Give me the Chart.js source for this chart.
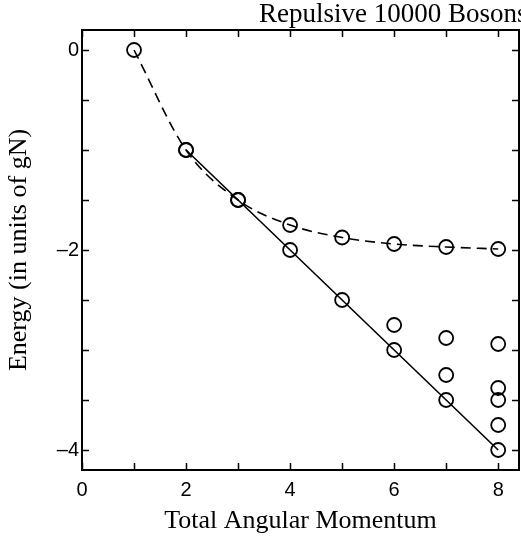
<!DOCTYPE html>
<html>
<head>
<meta charset="utf-8">
<script src="https://cdn.jsdelivr.net/npm/chart.js@4"></script>
<style>
  body { margin: 0; background: #fff; }
  #wrap { width: 521px; height: 542px; position: relative; }
</style>
</head>
<body>
<div id="wrap"><canvas id="chart"></canvas></div>
<script>
// values
const yrastL = [1, 2, 3, 4, 5, 6, 7, 8];
const yrastE = [0, -1, -1.5, -1.75, -1.875, -1.94, -1.97, -1.99];
const lineL = [2, 3, 4, 5, 6, 7, 8];
const lineE = [-1, -1.5, -2, -2.5, -3, -3.5, -4];
const extraL = [6, 7, 7, 8, 8, 8, 8];
const extraE = [-2.75, -2.88, -3.25, -2.94, -3.38, -3.5, -3.75];

// tick marks (labelled ones every 2)
const xTicks = [0, 1, 2, 3, 4, 5, 6, 7, 8];
const yTicks = [0, -0.5, -1, -1.5, -2, -2.5, -3, -3.5, -4];
const xLabelled = [0, 2, 4, 6, 8];
const yLabelled = [0, -2, -4];

const titleText = 'Repulsive 10000 Bosons';
const xLabel = 'Total Angular Momentum';
const yLabel = 'Energy (in units of gN)';

const toXY = (xs, ys) => xs.map((x, i) => ({ x: x, y: ys[i] }));

const serif = "'Liberation Serif', 'Times New Roman', serif";
const sans = "'Liberation Sans', Arial, sans-serif";

const pointStyle = {
  pointRadius: 7,
  pointBorderWidth: 1.8,
  pointBorderColor: '#000',
  pointBackgroundColor: 'rgba(0,0,0,0)',
  pointHoverRadius: 7
};

// frame, inward ticks on all four sides, and the title at top right
const framePlugin = {
  id: 'frame',
  afterDraw(chart) {
    const { ctx, chartArea: a, scales } = chart;
    ctx.save();
    ctx.strokeStyle = '#000';
    ctx.lineWidth = 2;
    ctx.strokeRect(a.left, a.top, a.right - a.left, a.bottom - a.top);

    ctx.lineWidth = 1.5;
    const len = 7;
    ctx.beginPath();
    xTicks.forEach(v => {
      const px = Math.round(scales.x.getPixelForValue(v)) + 0.5;
      ctx.moveTo(px, a.bottom); ctx.lineTo(px, a.bottom - len);
      ctx.moveTo(px, a.top); ctx.lineTo(px, a.top + len);
    });
    yTicks.forEach(v => {
      const py = Math.round(scales.y.getPixelForValue(v)) + 0.5;
      ctx.moveTo(a.left, py); ctx.lineTo(a.left + len, py);
      ctx.moveTo(a.right, py); ctx.lineTo(a.right - len, py);
    });
    ctx.stroke();

    ctx.fillStyle = '#000';
    ctx.font = '27px ' + serif;
    ctx.textAlign = 'left';
    ctx.textBaseline = 'alphabetic';
    ctx.fillText(titleText, 259, 22);
    ctx.restore();
  }
};

new Chart(document.getElementById('chart'), {
  type: 'scatter',
  data: {
    datasets: [
      {
        data: toXY(yrastL, yrastE),
        showLine: true,
        borderColor: '#000',
        borderWidth: 1.6,
        borderDash: [10, 6],
        cubicInterpolationMode: 'monotone',
        ...pointStyle
      },
      {
        data: toXY(lineL, lineE),
        showLine: true,
        borderColor: '#000',
        borderWidth: 1.6,
        ...pointStyle
      },
      {
        data: toXY(extraL, extraE),
        showLine: false,
        ...pointStyle
      }
    ]
  },
  options: {
    responsive: true,
    maintainAspectRatio: false,
    animation: false,
    layout: { autoPadding: false, padding: { top: 30, right: 2, left: 0, bottom: 0 } },
    plugins: { legend: { display: false }, tooltip: { enabled: false } },
    scales: {
      x: {
        type: 'linear',
        min: 0,
        max: 8.4,
        grid: { display: false, drawTicks: false },
        border: { display: false },
        afterBuildTicks: s => { s.ticks = xLabelled.map(v => ({ value: v })); },
        ticks: {
          autoSkip: false,
          maxRotation: 0,
          padding: 8,
          color: '#000',
          font: { family: sans, size: 20 },
          callback: v => String(v)
        },
        title: {
          display: true,
          text: xLabel,
          color: '#000',
          font: { family: serif, size: 26 },
          padding: { top: 0, bottom: 5 }
        },
        afterFit: s => { s.height = 72; s.paddingRight = 0; s.paddingLeft = 0; }
      },
      y: {
        type: 'linear',
        min: -4.2,
        max: 0.2,
        grid: { display: false, drawTicks: false },
        border: { display: false },
        afterBuildTicks: s => { s.ticks = yLabelled.map(v => ({ value: v })); },
        ticks: {
          autoSkip: false,
          padding: 3,
          color: '#000',
          font: { family: sans, size: 20 },
          callback: v => v === 0 ? '0' : '\u2013' + Math.abs(v)
        },
        title: {
          display: true,
          text: yLabel,
          color: '#000',
          font: { family: serif, size: 26 },
          padding: { top: 4, bottom: 0 }
        },
        afterFit: s => { s.width = 82; s.paddingTop = 0; s.paddingBottom = 0; }
      }
    }
  },
  plugins: [framePlugin]
});
</script>
</body>
</html>
